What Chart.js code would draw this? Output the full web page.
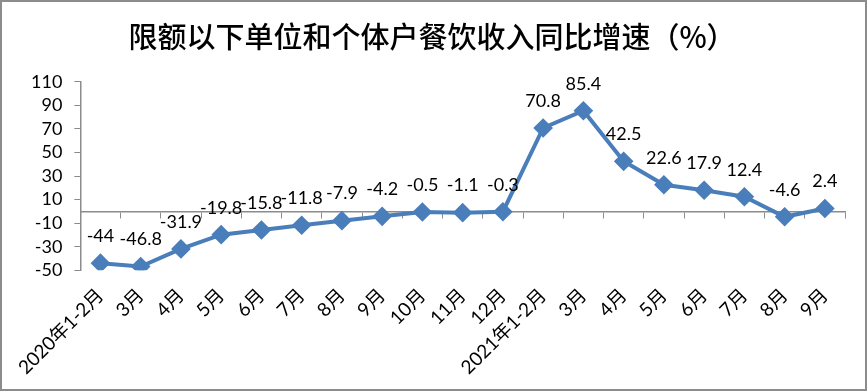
<!DOCTYPE html>
<html>
<head>
<meta charset="utf-8">
<script src="https://cdn.jsdelivr.net/npm/chart.js@4/dist/chart.umd.min.js"></script>
<style>
  html, body { margin: 0; padding: 0; background: #fff; }
  #wrap { width: 867px; height: 391px; box-sizing: border-box; border: 2px solid #8c8c8c; position: relative; }
  canvas { display: block; }
</style>
</head>
<body>
<div id="wrap"><canvas id="myChart" width="863" height="387"></canvas></div>
<script>
var months = ["2020年1-2月", "3月", "4月", "5月", "6月", "7月", "8月", "9月", "10月", "11月", "12月",
              "2021年1-2月", "3月", "4月", "5月", "6月", "7月", "8月", "9月"];
var growth = [-44, -46.8, -31.9, -19.8, -15.8, -11.8, -7.9, -4.2, -0.5, -1.1, -0.3,
              70.8, 85.4, 42.5, 22.6, 17.9, 12.4, -4.6, 2.4];
var yTicks = [-50, -30, -10, 10, 30, 50, 70, 90, 110];

var fontFamily = "Lato, 'Noto Sans CJK SC', sans-serif";

// value labels above each point
var pointLabels = {
    id: 'pointLabels',
    afterDatasetsDraw: function(chart) {
        var ctx = chart.ctx;
        var meta = chart.getDatasetMeta(0);
        ctx.save();
        ctx.font = "18px " + fontFamily;
        ctx.fillStyle = '#000';
        ctx.textAlign = 'center';
        ctx.textBaseline = 'middle';
        meta.data.forEach(function(pt, i) {
            ctx.fillText(String(growth[i]), pt.x, pt.y - 27);
        });
        ctx.restore();
    }
};

var ctx = document.getElementById('myChart').getContext('2d');

var myChart = new Chart(ctx, {
    type: 'line',
    data: {
        labels: months,
        datasets: [{
            label: '增速',
            data: growth,
            borderColor: '#4a7ebb',
            backgroundColor: '#4a7ebb',
            borderWidth: 4,
            pointStyle: 'rectRot',
            pointRadius: 7,
            pointHoverRadius: 7,
            tension: 0,
            xAxisID: 'x'
        }]
    },
    options: {
        responsive: false,
        animation: false,
        layout: { padding: { left: 17, right: 20, bottom: 4 } },
        plugins: {
            legend: { display: false },
            tooltip: { enabled: false },
            title: {
                display: true,
                text: '限额以下单位和个体户餐饮收入同比增速（%）',
                color: '#000',
                font: { family: "'Noto Sans CJK SC', sans-serif", size: 29, weight: 500 },
                padding: { top: 18, bottom: 27 }
            }
        },
        scales: {
            x: {
                type: 'category',
                position: 'bottom',
                offset: true,
                grid: { display: false },
                border: { display: false },
                ticks: {
                    color: '#000',
                    font: { family: fontFamily, size: 19 },
                    maxRotation: 45,
                    minRotation: 45,
                    autoSkip: false,
                    padding: 6
                }
            },
            x0: {
                type: 'category',
                labels: months,
                position: { y: 0 },
                offset: true,
                grid: { offset: true, drawOnChartArea: false, color: '#8c8c8c', tickLength: 6 },
                border: { color: '#8c8c8c', width: 1.5 },
                ticks: { display: false }
            },
            y: {
                min: -50,
                max: 110,
                afterBuildTicks: function(scale) {
                    scale.ticks = yTicks.map(function(v) { return { value: v }; });
                },
                grid: { drawOnChartArea: false, color: '#8c8c8c', tickLength: 6 },
                border: { color: '#8c8c8c', width: 1.5 },
                ticks: {
                    color: '#000',
                    font: { family: fontFamily, size: 18 },
                    padding: 12,
                    autoSkip: false
                }
            }
        }
    },
    plugins: [pointLabels]
});
</script>
</body>
</html>
